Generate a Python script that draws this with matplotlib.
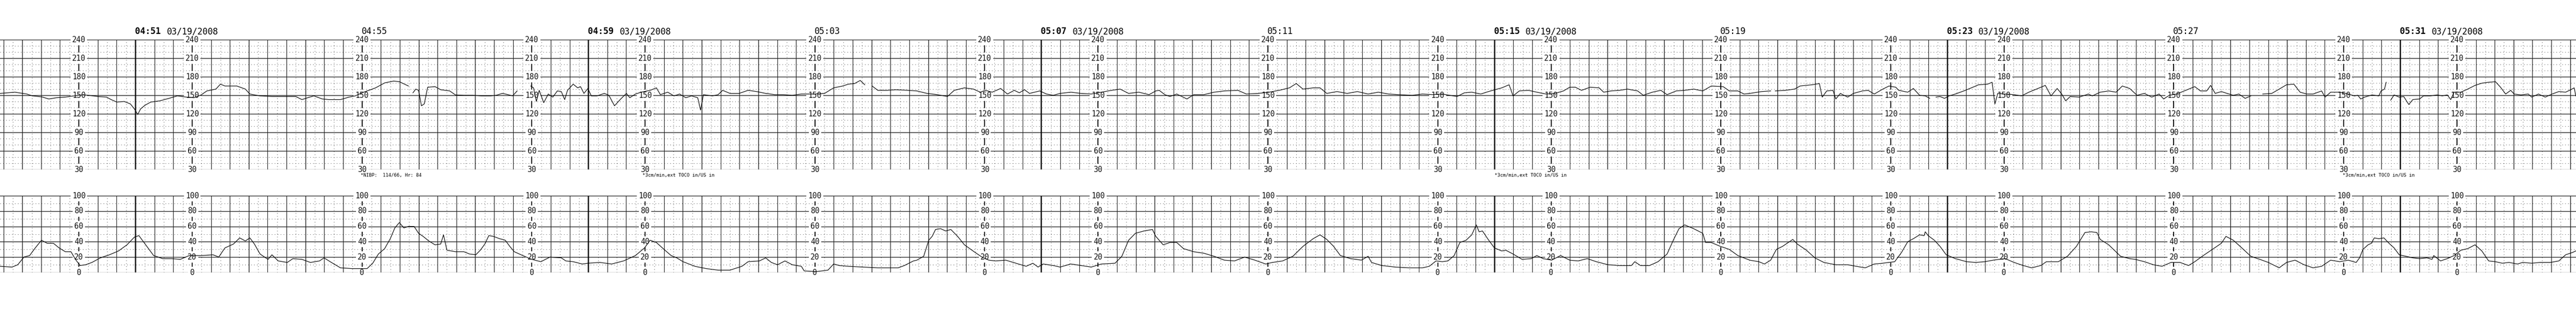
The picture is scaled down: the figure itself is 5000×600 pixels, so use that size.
import numpy as np
import matplotlib
matplotlib.use("Agg")
import matplotlib.pyplot as plt
from matplotlib.transforms import blended_transform_factory

nan = float("nan")

# ---------------- data (time in minutes from 04:51 page start) ----------------
fhr_t = [-2.39, -2.13, -1.92, -1.82, -1.66, -1.53, -1.40, -1.24, -1.09, -0.93, -0.83, -0.67, -0.51,
         -0.43, -0.33, -0.20, -0.09, -0.02, 0.04, 0.09, 0.17, 0.27, 0.43, 0.59, 0.74, 0.90, 1.03,
         1.16, 1.26, 1.42, 1.50, 1.58, 1.79, 1.94, 2.02, 2.20, 2.41, 2.62, 2.83, 2.94, 3.04, 3.15,
         3.30, 3.41, 3.62, 3.77, 3.88, 4.03, 4.24, 4.40, 4.56, 4.66, 4.82, 4.86, 4.90, 4.95, 5.00,
         5.05, 5.10, 5.16, 5.29, 5.39, 5.55, 5.65, 5.80,
         5.96, 6.11, 6.27, 6.37, 6.48, 6.58, 6.66, 6.74, 6.85, 6.98, 7.03, 7.08, 7.13, 7.21, 7.29,
         7.37, 7.45, 7.52, 7.58, 7.63, 7.73, 7.81, 7.86, 7.92, 7.99, 8.05, 8.15, 8.28, 8.36, 8.46,
         8.57, 8.67, 8.73, 8.83, 8.93, 9.09, 9.20, 9.27, 9.40, 9.51, 9.61, 9.72, 9.82, 9.93, 9.98,
         10.03, 10.19, 10.29, 10.37, 10.50, 10.66, 10.82, 10.97, 11.13, 11.29, 11.44, 11.60, 11.76,
         11.97, 12.17, 12.33, 12.49, 12.59, 12.70, 12.80, 12.88, 12.95, 13.01, 13.11, 13.27, 13.43,
         13.64,
         13.80, 13.98, 14.16, 14.34, 14.46, 14.64, 14.80, 14.92, 15.01, 15.13, 15.28, 15.40, 15.52,
         15.61, 15.70, 15.79, 15.97, 16.09, 16.21, 16.33, 16.52, 16.70, 16.88, 17.06, 17.24, 17.39,
         17.54, 17.72, 17.90, 18.02, 18.08, 18.18, 18.27, 18.39, 18.57, 18.69, 18.87, 19.05, 19.23,
         19.47, 19.62, 19.83, 20.02, 20.20, 20.38, 20.50, 20.62, 20.80, 20.92, 21.04, 21.22, 21.40,
         21.58, 21.77, 21.95, 22.13, 22.31, 22.55, 22.73, 22.91,
         23.08, 23.21, 23.34, 23.47, 23.60, 23.76, 23.86, 23.97, 24.13, 24.26, 24.33, 24.44, 24.60,
         24.75, 24.91, 25.07, 25.22, 25.33, 25.43, 25.54, 25.69, 25.85, 25.93, 26.06, 26.21, 26.35,
         26.53, 26.63, 26.79, 26.94, 27.05, 27.21, 27.36, 27.52, 27.68, 27.83, 28.04, 28.15, 28.30,
         28.41, 28.51, 28.72, 28.88, 28.92, 28.96, 29.14, 29.30, 29.40, 29.61, 29.74, 29.79, 29.87,
         29.98, 30.03, 30.11, 30.24, 30.34, 30.50, 30.60, 30.71, 30.86, 30.97,
         31.09, 31.14, 31.30, 31.40, 31.51, 31.61, 31.69, 31.75, 31.80, 31.87, 31.95, 32.03, 32.14,
         32.29, 32.45, 32.55, 32.71, 32.79, 32.84, 32.89, 33.02, 33.18, 33.31, 33.44, 33.60, 33.73,
         33.83, 33.94, 34.02, 34.09, 34.17, 34.33, 34.49, 34.56, 34.70, 34.85, 34.98, 35.09, 35.22,
         35.35, 35.48, 35.61, 35.74, 35.82, 35.92, 36.05, 36.21, 36.37, 36.47, 36.58, 36.65, 36.73,
         36.84, 36.94, 37.05, 37.15, 37.26, 37.36, 37.46, 37.57, 37.73, 37.88, 37.99, 38.12, 38.23,
         38.35, 38.46, 38.61, 38.67, 38.77, 38.93, 39.08, 39.19,
         39.25, 39.30, 39.37, 39.50, 39.62, 39.66, 39.72, 39.75, 39.79, 39.83, 39.89, 39.98, 40.06,
         40.15, 40.22, 40.34, 40.41, 40.53, 40.65, 40.74, 40.83, 40.89, 40.95, 41.07, 41.19, 41.32,
         41.44, 41.56, 41.68, 41.77, 41.86, 41.95, 42.01, 42.13, 42.26, 42.32, 42.44, 42.56, 42.68,
         42.80, 42.92, 43.01, 43.07, 43.10]
fhr_bpm = [153, 155, 152, 149, 147.5, 144, 146, 147, 149, 150.6, 150, 148, 147,
           143, 139, 140, 136, 128, 119, 128, 134, 139, 141, 145, 149, 147, 146,
           150.6, 157, 160, 168, 165, 165, 160, 152, 149, 148, 148, 148, 143, 146, 149,
           144, 143, 143, 147, 149, 155, 162, 170, 173, 172, 165, nan, 154, 160, 158,
           133, 136, 163, 164, 159, 157, 150.6, 150,
           150, 149, 149, 150, 153, 151, 149, 157, nan, 165, 162, 140, 158, 138, 152,
           147, 157, 156, 143, 158, 168, 162, 164, 153, 161, 149, 149, 153, 150, 133,
           144, 153, 146, 152, 155, 158, 162, 151, 155, 149, 152, 146, 149, 146, 126,
           151, 149, 151, 158, 153, 153, 158, 156, 153, 151, 151, 150, 152,
           152, 153, 162, 165, 168, 169, 174, 167, nan, 165, 158, 158, 159,
           158,
           157, 153, 151, 148, 158, 162, 160, 155, 158, 155, 161, 152, 158,
           154, 159, 153, 157, 152, 150, 153, 155, 153, 152, 155, 158, 160,
           153, 155, 151, 157, 158, 151, 148, 152, 144, 151, 151, 155, 157,
           158, 152, 153, 155, 158, 162, 169, 160, 162, 162, 153, 156, 153,
           156, 152, 155, 152, 151, 150, 152, 151,
           152, 150, 148, 154, 155, 152, 155, 158, 162, 167, 149, 157, 158,
           155, 152, 153, 157, 163, 163, 158, 163, 162, 155, 157, 158, 160,
           157, 150, 155, 158, 151, 157, 158, 160, 157, 165, 164, 157, 157,
           152, 153, 156, 157, nan, 157, 158, 160, 165, 167, 169, 147, 157,
           158, 144, 153, 147, 153, 157, 158, 152, 160, 165,
           163, 158, 155, 161, 150, 149, 145, nan, 147, 148, 145, 149, 152,
           157, 163, 167, 168, 171, 136, 153, 152, 151, 149, 155, 161, 166,
           149, 161, 152, 141, 148, 147, 152, 149, 155, 157, 155, 165, 161,
           150, 153, 147, 152, 144, 150, 152, 158, 164, 157, 157, 166, 153,
           156, 153, 150, 152, 145, 149, nan, 152, 153, 161, 167, 168, 155,
           152, 152, 157, 147, 155, 155, 152, 149,
           150, 144, 147, 150.6, 149, 157, 160, 171, nan, 142, 150.6, 147, 148,
           135, 143, 144, 149, 149, 150.6, 149, 150.6, 143, 155, 155, 160, 166,
           169.6, 171, 172, 163, 152, 158, 152, 150.6, 152, 147, 152, 147, 152,
           156, 155, 159, 162, 149]

toco_t = [-2.39, -2.18, -2.08, -1.97, -1.87, -1.77, -1.66, -1.56, -1.45, -1.35, -1.24, -1.14, -1.06,
          -0.98, -0.88, -0.77, -0.62, -0.46, -0.30, -0.15, -0.02, 0.06, 0.17, 0.32, 0.48, 0.64, 0.79,
          0.95, 1.16, 1.37, 1.47, 1.58, 1.73, 1.84, 1.94, 2.02, 2.10, 2.20, 2.34, 2.41, 2.52, 2.68,
          2.78, 2.94, 3.09, 3.25, 3.33, 3.46, 3.62, 3.82, 4.09, 4.19, 4.29, 4.40, 4.50, 4.58, 4.66,
          4.74, 4.82, 4.92, 5.00, 5.08, 5.18, 5.29, 5.39, 5.44, 5.50, 5.65,
          5.80, 5.90, 6.01, 6.09, 6.17, 6.24, 6.32, 6.43, 6.53, 6.61, 6.69, 6.84, 7.00, 7.16, 7.32,
          7.52, 7.60, 7.73, 7.89, 7.99, 8.20, 8.41, 8.62, 8.83, 8.99, 9.09, 9.20, 9.35, 9.46, 9.56,
          9.67, 9.88, 10.08, 10.29, 10.50, 10.71, 10.82, 11.02, 11.13, 11.23, 11.34, 11.47, 11.60,
          11.76, 11.81, 12.02, 12.23, 12.33, 12.43, 12.59, 12.85, 13.11, 13.31, 13.47, 13.58, 13.74,
          13.80, 13.92, 14.01, 14.07, 14.13, 14.22, 14.31, 14.40, 14.52, 14.64, 14.83, 14.95, 15.07,
          15.19, 15.37, 15.55, 15.73, 15.85, 15.94, 16.03, 16.21, 16.33, 16.52, 16.70, 16.88, 17.06,
          17.30, 17.42, 17.54, 17.66, 17.81, 17.96, 18.02, 18.15, 18.27, 18.39, 18.51, 18.69, 18.87,
          19.05, 19.23, 19.41, 19.59, 19.77, 19.96, 20.08, 20.26, 20.44, 20.62, 20.80, 20.92, 21.04,
          21.16, 21.28, 21.46, 21.65, 21.77, 21.83, 22.01, 22.25, 22.49, 22.73, 22.85, 22.97,
          23.08, 23.18, 23.29, 23.39, 23.50, 23.60, 23.68, 23.73, 23.79, 23.89, 24.00, 24.13, 24.20,
          24.33, 24.49, 24.65, 24.75, 24.86, 25.01, 25.17, 25.33, 25.48, 25.64, 25.80, 26.01, 26.21,
          26.42, 26.48, 26.58, 26.74, 26.89, 27.05, 27.16, 27.26, 27.36, 27.52, 27.68, 27.73, 27.83,
          27.99, 28.15, 28.30, 28.51, 28.67, 28.77, 28.88, 28.98, 29.09, 29.19, 29.27, 29.35, 29.51,
          29.66, 29.82, 30.03, 30.24, 30.39, 30.55, 30.71, 30.86, 31.07,
          31.19, 31.30, 31.40, 31.51, 31.59, 31.61, 31.66, 31.77, 31.87, 31.98, 32.14, 32.34, 32.50,
          32.66, 32.81, 33.02, 33.18, 33.34, 33.49, 33.65, 33.75, 33.96, 34.12, 34.28, 34.43, 34.54,
          34.64, 34.70, 34.85, 35.06, 35.22, 35.32, 35.48, 35.64, 35.79, 35.95, 36.11, 36.26, 36.37,
          36.52, 36.68, 36.84, 36.92, 37.05, 37.20, 37.36, 37.52, 37.67, 37.86, 37.99, 38.14, 38.30,
          38.46, 38.61, 38.77, 38.93, 39.08,
          39.22, 39.28, 39.34, 39.43, 39.49, 39.54, 39.62, 39.71, 39.80, 39.89, 39.98, 40.10, 40.22,
          40.34, 40.47, 40.56, 40.59, 40.71, 40.83, 40.95, 41.07, 41.19, 41.32, 41.44, 41.56, 41.68,
          41.80, 41.92, 42.07, 42.16, 42.32, 42.47, 42.65, 42.80, 42.92, 43.04, 43.10]
toco_val = [8, 7, 10, 20, 22, 32, 42, 38, 38, 32, 27, 27, 17,
            9, 10, 13, 19, 23, 28, 36, 46, 48, 37, 22, 18, 18, 17,
            22, 22, 23, 20, 32, 37, 45, 41, 45, 37, 24, 17, 23, 15, 13,
            18, 17, 13, 15, 19, 13, 6, 5, 5, 12, 24, 31, 44, 58, 65,
            58, 60, 60, 51, 47, 41, 36, 37, 49, 29, 27,
            27, 24, 23, 29, 37, 48, 47, 44, 42, 34, 27, 22, 17, 14, 20,
            19, 15, 14, 11, 12, 13, 11, 15, 22, 32, 42, 39, 29, 22, 19,
            14, 8, 5, 3, 3, 8, 14, 15, 19, 13, 10, 15, 10,
            8, 2, 1, 3, 11, 9, 8, 7, 6, 6, 6, 9, 15,
            16, 21, 42, 47, 56, 57, 54, 56, 47, 36, 26, 20, 16,
            15, 16, 12, 8, 12, 7, 11, 9, 7, 11, 9, 7, 11,
            12, 21, 42, 51, 54, 56, 47, 36, 39, 39, 31, 27, 25,
            21, 16, 15, 20, 16, 11, 13, 15, 21, 34, 44, 49, 43,
            34, 22, 18, 16, 21, 13, 9, 7, 6, 6, 8, 15,
            14, 15, 22, 39, 42, 49, 62, 53, 54, 43, 32, 28, 29,
            24, 17, 18, 22, 18, 16, 22, 16, 15, 18, 14, 10, 9,
            9, 14, 9, 9, 14, 24, 42, 57, 62, 57, 51, 39, 39,
            34, 30, 22, 16, 14, 11, 16, 30, 34, 39, 43, 37, 29,
            19, 13, 10, 10, 8, 6, 11, 12, 14,
            26, 40, 44, 49, 48, 53, 48, 42, 34, 23, 18, 14, 13,
            14, 16, 18, 13, 9, 6, 9, 14, 14, 21, 34, 52, 53,
            52, 43, 36, 21, 18, 17, 14, 10, 8, 13, 13, 9, 14,
            22, 30, 38, 47, 42, 32, 21, 17, 13, 6, 13, 16, 10,
            6, 8, 16, 14, 16,
            13, 19, 30, 36, 38, 45, 44, 45, 38, 32, 23, 21, 19,
            18, 19, 17, 22, 15, 18, 22, 29, 31, 36, 28, 15, 14,
            12, 13, 11, 13, 12, 13, 13, 15, 23, 26, 28]

page_starts = [0, 8, 16, 24, 32, 40]
page_time_labels = ["04:51", "04:59", "05:07", "05:15", "05:23", "05:31"]
mid_time_labels = ["04:55", "05:03", "05:11", "05:19", "05:27"]
date_label = "03/19/2008"
fhr_ticks = [30, 60, 90, 120, 150, 180, 210, 240]
toco_ticks = [0, 20, 40, 60, 80, 100]
note_pos = [3.98, 8.95, 24.0, 38.98]
note_text = ["*NIBP:  114/66, Hr: 84", "*3cm/min,ext TOCO in/US in",
             "*3cm/min,ext TOCO in/US in", "*3cm/min,ext TOCO in/US in"]

# ---------------- layout ----------------
W, H = 5000, 600
PX_PER_MIN = 109.9
X0 = 263.0
T0 = -X0 / PX_PER_MIN
T1 = (W - X0) / PX_PER_MIN

fig = plt.figure(figsize=(W / 100, H / 100), dpi=100)
fig.patch.set_facecolor("white")

def fy(px):
    return 1 - px / H

ax_top = fig.add_axes([0, fy(329), 1, (329 - 77) / H])
ax_bot = fig.add_axes([0, fy(529), 1, (529 - 380) / H])

MONO = "DejaVu Sans Mono"
GRID = "#1e1e1e"
DOT = "#4a4a4a"
DOTSTYLE = (0, (1.0, 4.5))


def draw_panel(ax, ymin, ymax, major, minor_step, ticks):
    ax.set_xlim(T0, T1)
    ax.set_ylim(ymin, ymax)
    ax.axis("off")
    # horizontal minor dotted
    for v in np.arange(ymin, ymax + 0.1, minor_step):
        if (v - ymin) % major != 0:
            ax.axhline(v, color=DOT, lw=0.75, linestyle=DOTSTYLE, zorder=1)
    # horizontal major
    for v in ticks:
        ax.axhline(v, color=GRID, lw=0.95, zorder=2)
    # vertical grid
    label_cols = []
    for p in [-8] + page_starts:
        for off in (1, 4, 7):
            label_cols.append(p + off)
    kmin = int(np.floor(T0 * 3)) - 1
    kmax = int(np.ceil(T1 * 3)) + 1
    for k in range(kmin, kmax):
        t = k / 3.0
        ax.axvline(t + 1 / 6.0, color=DOT, lw=0.75, linestyle=DOTSTYLE, zorder=1)
        if any(abs(t - c) < 1e-6 for c in label_cols):
            continue
        lw = 1.0 if k % 3 == 0 else 0.8
        ax.axvline(t, color=GRID, lw=lw, zorder=2)
    # page boundaries
    for p in page_starts:
        ax.axvline(p, color="black", lw=1.7, zorder=2.5)
    # label columns: short bars between the labels
    step = ticks[1] - ticks[0]
    for tc in label_cols:
        if T0 - 0.3 < tc < T1 + 0.3:
            for v in ticks[:-1]:
                ax.plot([tc, tc], [v + 0.27 * step, v + 0.73 * step], color="black",
                        lw=1.3, zorder=2.6, solid_capstyle="butt")
            for v in ticks:
                ax.text(tc, v, str(v), ha="center", va="center", family=MONO,
                        fontsize=10.5, color="#111111", zorder=3, clip_on=False,
                        bbox=dict(boxstyle="square,pad=0.22", fc="white", ec="none"))


draw_panel(ax_top, 30, 240, 30, 10, fhr_ticks)
draw_panel(ax_bot, 0, 100, 20, 10, toco_ticks)

ax_top.plot(fhr_t, fhr_bpm, color="black", lw=0.85, zorder=4)
ax_bot.plot(toco_t, toco_val, color="black", lw=0.85, zorder=4)

# header times
tr = blended_transform_factory(ax_top.transData, fig.transFigure)
for p, lab in zip(page_starts, page_time_labels):
    ax_top.text(p - 0.01, fy(61), lab, transform=tr, ha="left", va="center", family=MONO,
                fontsize=12, fontweight="bold", color="black", clip_on=False)
    ax_top.text(p + 0.55, fy(61), date_label, transform=tr, ha="left", va="center", family=MONO,
                fontsize=12, color="black", clip_on=False)
for p, lab in zip(page_starts[:-1], mid_time_labels):
    ax_top.text(p + 4 - 0.01, fy(61), lab, transform=tr, ha="left", va="center", family=MONO,
                fontsize=12, color="black", clip_on=False)

for x, s in zip(note_pos, note_text):
    ax_top.text(x, fy(341), s, transform=tr, ha="left", va="center", family=MONO,
                fontsize=6.5, color="black", clip_on=False)

fig.savefig("out.png", dpi=100, facecolor="white")
